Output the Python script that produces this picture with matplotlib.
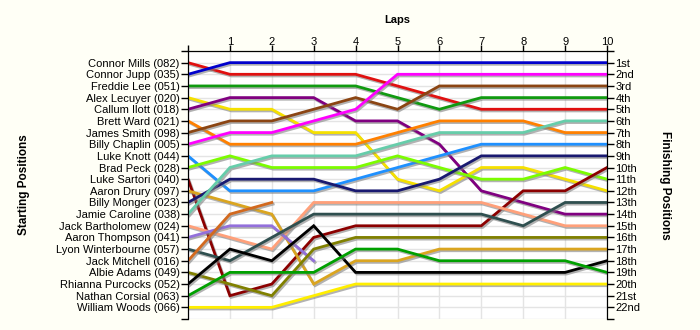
import matplotlib
matplotlib.use("Agg")
import matplotlib.pyplot as plt
import matplotlib.patheffects as pe

plt.rcParams['font.family'] = ['Liberation Sans', 'DejaVu Sans']

laps = list(range(11))
lap_labels = [''] + [str(i) for i in range(1, 11)]

drivers = [
    "Connor Mills (082)", "Connor Jupp (035)", "Freddie Lee (051)", "Alex Lecuyer (020)",
    "Callum Ilott (018)", "Brett Ward (021)", "James Smith (098)", "Billy Chaplin (005)",
    "Luke Knott (044)", "Brad Peck (028)", "Luke Sartori (040)", "Aaron Drury (097)",
    "Billy Monger (023)", "Jamie Caroline (038)", "Jack Bartholomew (024)", "Aaron Thompson (041)",
    "Lyon Winterbourne (057)", "Jack Mitchell (016)", "Albie Adams (049)", "Rhianna Purcocks (052)",
    "Nathan Corsial (063)", "William Woods (066)",
]

# position at lap 0..10, None = retired
positions = [
    [1, 2, 2, 2, 2, 3, 4, 5, 5, 5, 5],
    [2, 1, 1, 1, 1, 1, 1, 1, 1, 1, 1],
    [3, 3, 3, 3, 3, 4, 5, 4, 4, 4, 4],
    [4, 5, 5, 7, 7, 11, 12, 10, 10, 11, 12],
    [5, 4, 4, 4, 6, 6, 8, 12, 13, 14, 14],
    [6, 8, 8, 8, 8, 7, 6, 6, 6, 7, 7],
    [7, 6, 6, 5, 4, 5, 3, 3, 3, 3, 3],
    [8, 7, 7, 6, 5, 2, 2, 2, 2, 2, 2],
    [9, 12, 12, 12, 11, 10, 9, 8, 8, 8, 8],
    [10, 9, 10, 10, 10, 9, 10, 11, 11, 10, 11],
    [11, 21, 20, 16, 15, 15, 15, 15, 12, 12, 10],
    [12, 13, 14, 20, 18, 18, 17, 17, 17, 17, 17],
    [13, 11, 11, 11, 12, 12, 11, 9, 9, 9, 9],
    [14, 10, 9, 9, 9, 8, 7, 7, 7, 6, 6],
    [15, 16, 17, 13, 13, 13, 13, 13, 14, 15, 15],
    [16, 15, 15, 18, None, None, None, None, None, None, None],
    [17, 18, 16, 14, 14, 14, 14, 14, 15, 13, 13],
    [18, 14, 13, None, None, None, None, None, None, None, None],
    [19, 20, 21, 17, 16, 16, 16, 16, 16, 16, 16],
    [20, 17, 18, 15, 19, 19, 19, 19, 19, 19, 18],
    [21, 19, 19, 19, 17, 17, 18, 18, 18, 18, 19],
    [22, 22, 22, 21, 20, 20, 20, 20, 20, 20, 20],
]

colors = [
    '#e01010', '#0000cc', '#109a10', '#f5e000', '#800080', '#ff8000', '#8b4513', '#ff00ff',
    '#1e90ff', '#7cfc00', '#8b0000', '#daa520', '#191970', '#66cdaa', '#ffa07a', '#9370db',
    '#2f4f4f', '#d2691e', '#808000', '#000000', '#00a000', '#ffee00',
]

def ordinal(n):
    if 10 <= n % 100 <= 20:
        suf = 'th'
    else:
        suf = {1: 'st', 2: 'nd', 3: 'rd'}.get(n % 10, 'th')
    return f"{n}{suf}"

n = len(drivers)
bg = '#fffff6'

fig = plt.figure(figsize=(7, 3.3), dpi=100, facecolor=bg)
ax = fig.add_axes([188 / 700, 1 - 319 / 330, 419 / 700, 268 / 330])
ax.set_facecolor('white')

shadow = [pe.SimpleLineShadow(offset=(1, -1.2), shadow_color='#808080', alpha=0.6), pe.Normal()]
for pos, c in zip(positions, colors):
    xs = [l for l, p in zip(laps, pos) if p is not None]
    ys = [p for p in pos if p is not None]
    ax.plot(xs, ys, color=c, lw=2.0, solid_joinstyle='miter', path_effects=shadow, zorder=3)

ax.set_xlim(0, 10)
ax.set_ylim(n + 1, 0)

ax.set_xticks(laps)
ax.set_xticklabels(lap_labels)
ax.xaxis.tick_top()
ax.xaxis.set_label_position('top')
ax.set_xlabel('Laps', fontweight='bold', fontsize=8)
ax.xaxis.set_label_coords(0.5, 1 + (51 - 23) / 268)

yt = list(range(n + 2))
ax.set_yticks(yt)
ax.set_yticklabels([''] + drivers + [''])
ax.grid(True, color='#e4e4e4', lw=1, zorder=0)
ax.set_axisbelow(True)
ax.tick_params(axis='both', labelsize=8, length=5, width=1, pad=1, color='black')
ax.tick_params(axis='x', length=4, pad=-1)
ax.spines['bottom'].set_visible(False)
ax.set_ylabel('Starting Positions', fontweight='bold', fontsize=8.5)
ax.yaxis.set_label_coords((30 - 188) / 419, 0.5)

ax2 = ax.twinx()
ax2.set_ylim(n + 1, 0)
ax2.set_yticks(yt)
ax2.set_yticklabels([''] + [ordinal(i) for i in range(1, n + 1)] + [''])
ax2.tick_params(axis='y', labelsize=8, length=5, width=1, pad=1)
ax2.spines['bottom'].set_visible(False)
ax2.set_ylabel('Finishing Positions', fontweight='bold', fontsize=8.5, rotation=270, va='center')
ax2.yaxis.set_label_coords((665 - 188) / 419, 0.5)

fig.savefig('out.png', dpi=100, facecolor=bg)
